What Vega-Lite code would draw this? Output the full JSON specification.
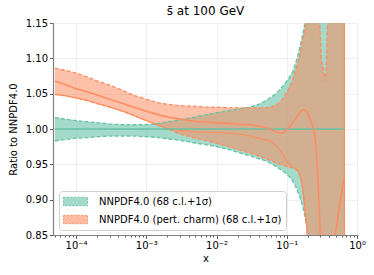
{
  "$schema": "https://vega.github.io/schema/vega-lite/v6.json",
  "width": 305,
  "height": 212,
  "autosize": {"type": "none"},
  "padding": {"left": 53, "top": 23, "right": 16, "bottom": 40},
  "background": "white",
  "title": {"text": "s̄ at 100 GeV", "font": "DejaVu Sans", "fontSize": 12, "fontWeight": "normal", "color": "black", "offset": 0, "frame": "group"},
  "config": {
    "view": {"stroke": null},
    "font": "DejaVu Sans",
    "axis": {
      "labelFont": "DejaVu Sans", "labelFontSize": 10, "labelColor": "black",
      "titleFont": "DejaVu Sans", "titleFontSize": 10, "titleFontWeight": "normal", "titleColor": "black",
      "domainColor": "#808080", "domainWidth": 1.2, "tickColor": "#333333", "tickWidth": 0.8,
      "gridColor": "#ebebeb", "gridWidth": 0.8, "labelOverlap": false
    },
    "axisY": {"labelOverlap": false, "labelFlush": false}
  },
  "data": {"values": [
    {"x": 0.00005, "g_lo": 0.983, "g_hi": 1.016, "g_c": 1.0, "o_lo": 1.049, "o_hi": 1.086, "o_c": 1.068, "o_in": 1.049},
    {"x": 0.00007, "g_lo": 0.985, "g_hi": 1.014, "g_c": 1.0, "o_lo": 1.047, "o_hi": 1.083, "o_c": 1.063, "o_in": 1.047},
    {"x": 0.0001, "g_lo": 0.987, "g_hi": 1.012, "g_c": 1.0, "o_lo": 1.044, "o_hi": 1.079, "o_c": 1.057, "o_in": 1.044},
    {"x": 0.00015, "g_lo": 0.988, "g_hi": 1.010, "g_c": 1.0, "o_lo": 1.040, "o_hi": 1.073, "o_c": 1.052, "o_in": 1.040},
    {"x": 0.0002, "g_lo": 0.989, "g_hi": 1.009, "g_c": 1.0, "o_lo": 1.036, "o_hi": 1.068, "o_c": 1.048, "o_in": 1.036},
    {"x": 0.0003, "g_lo": 0.990, "g_hi": 1.007, "g_c": 1.0, "o_lo": 1.031, "o_hi": 1.062, "o_c": 1.042, "o_in": 1.031},
    {"x": 0.0005, "g_lo": 0.990, "g_hi": 1.006, "g_c": 1.0, "o_lo": 1.024, "o_hi": 1.053, "o_c": 1.035, "o_in": 1.024},
    {"x": 0.0007, "g_lo": 0.990, "g_hi": 1.006, "g_c": 1.0, "o_lo": 1.018, "o_hi": 1.047, "o_c": 1.030, "o_in": 1.018},
    {"x": 0.001, "g_lo": 0.989, "g_hi": 1.006, "g_c": 1.0, "o_lo": 1.012, "o_hi": 1.042, "o_c": 1.025, "o_in": 1.012},
    {"x": 0.0015, "g_lo": 0.988, "g_hi": 1.008, "g_c": 1.0, "o_lo": 1.005, "o_hi": 1.037, "o_c": 1.020, "o_in": 1.005},
    {"x": 0.002, "g_lo": 0.986, "g_hi": 1.010, "g_c": 1.0, "o_lo": 1.000, "o_hi": 1.035, "o_c": 1.017, "o_in": 1.001},
    {"x": 0.003, "g_lo": 0.984, "g_hi": 1.013, "g_c": 1.0, "o_lo": 0.993, "o_hi": 1.033, "o_c": 1.014, "o_in": 0.998},
    {"x": 0.005, "g_lo": 0.980, "g_hi": 1.017, "g_c": 1.0, "o_lo": 0.987, "o_hi": 1.032, "o_c": 1.011, "o_in": 0.996},
    {"x": 0.007, "g_lo": 0.978, "g_hi": 1.020, "g_c": 1.0, "o_lo": 0.984, "o_hi": 1.031, "o_c": 1.010, "o_in": 0.995},
    {"x": 0.01, "g_lo": 0.975, "g_hi": 1.023, "g_c": 1.0, "o_lo": 0.980, "o_hi": 1.031, "o_c": 1.009, "o_in": 0.995},
    {"x": 0.015, "g_lo": 0.971, "g_hi": 1.026, "g_c": 1.0, "o_lo": 0.975, "o_hi": 1.030, "o_c": 1.008, "o_in": 0.994},
    {"x": 0.02, "g_lo": 0.967, "g_hi": 1.028, "g_c": 1.0, "o_lo": 0.971, "o_hi": 1.030, "o_c": 1.007, "o_in": 0.993},
    {"x": 0.03, "g_lo": 0.962, "g_hi": 1.031, "g_c": 1.0, "o_lo": 0.966, "o_hi": 1.030, "o_c": 1.006, "o_in": 0.990},
    {"x": 0.04, "g_lo": 0.958, "g_hi": 1.035, "g_c": 1.0, "o_lo": 0.962, "o_hi": 1.030, "o_c": 1.004, "o_in": 0.987},
    {"x": 0.05, "g_lo": 0.955, "g_hi": 1.040, "g_c": 1.0, "o_lo": 0.958, "o_hi": 1.030, "o_c": 1.002, "o_in": 0.985},
    {"x": 0.06, "g_lo": 0.951, "g_hi": 1.045, "g_c": 1.0, "o_lo": 0.955, "o_hi": 1.031, "o_c": 0.999, "o_in": 0.982},
    {"x": 0.07, "g_lo": 0.947, "g_hi": 1.050, "g_c": 1.0, "o_lo": 0.952, "o_hi": 1.034, "o_c": 0.996, "o_in": 0.977},
    {"x": 0.08, "g_lo": 0.943, "g_hi": 1.056, "g_c": 1.0, "o_lo": 0.950, "o_hi": 1.038, "o_c": 0.994, "o_in": 0.970},
    {"x": 0.09, "g_lo": 0.940, "g_hi": 1.062, "g_c": 1.0, "o_lo": 0.948, "o_hi": 1.044, "o_c": 0.995, "o_in": 0.962},
    {"x": 0.1, "g_lo": 0.936, "g_hi": 1.068, "g_c": 1.0, "o_lo": 0.947, "o_hi": 1.052, "o_c": 0.999, "o_in": 0.955},
    {"x": 0.11, "g_lo": 0.932, "g_hi": 1.074, "g_c": 1.0, "o_lo": 0.946, "o_hi": 1.060, "o_c": 1.003, "o_in": 0.950},
    {"x": 0.12, "g_lo": 0.927, "g_hi": 1.080, "g_c": 1.0, "o_lo": 0.945, "o_hi": 1.068, "o_c": 1.008, "o_in": 0.946},
    {"x": 0.13, "g_lo": 0.921, "g_hi": 1.090, "g_c": 1.0, "o_lo": 0.944, "o_hi": 1.080, "o_c": 1.013, "o_in": 0.944},
    {"x": 0.14, "g_lo": 0.914, "g_hi": 1.100, "g_c": 1.0, "o_lo": 0.942, "o_hi": 1.090, "o_c": 1.018, "o_in": 0.942},
    {"x": 0.15, "g_lo": 0.906, "g_hi": 1.112, "g_c": 1.0, "o_lo": 0.937, "o_hi": 1.102, "o_c": 1.022, "o_in": 0.937},
    {"x": 0.16, "g_lo": 0.898, "g_hi": 1.124, "g_c": 1.0, "o_lo": 0.928, "o_hi": 1.115, "o_c": 1.025, "o_in": 0.928},
    {"x": 0.17, "g_lo": 0.889, "g_hi": 1.136, "g_c": 1.0, "o_lo": 0.912, "o_hi": 1.128, "o_c": 1.027, "o_in": 0.912},
    {"x": 0.18, "g_lo": 0.878, "g_hi": 1.148, "g_c": 1.0, "o_lo": 0.890, "o_hi": 1.140, "o_c": 1.027, "o_in": 0.890},
    {"x": 0.19, "g_lo": 0.865, "g_hi": 1.165, "g_c": 1.0, "o_lo": 0.865, "o_hi": 1.152, "o_c": 1.025, "o_in": 0.865},
    {"x": 0.2, "g_lo": 0.850, "g_hi": 1.180, "g_c": 1.0, "o_lo": 0.840, "o_hi": 1.165, "o_c": 1.021, "o_in": 0.840},
    {"x": 0.22, "g_lo": 0.810, "g_hi": 1.220, "g_c": 1.0, "o_lo": 0.780, "o_hi": 1.190, "o_c": 1.011, "o_in": 0.780},
    {"x": 0.24, "g_lo": 0.750, "g_hi": 1.260, "g_c": 1.0, "o_lo": 0.720, "o_hi": 1.215, "o_c": 1.000, "o_in": 0.720},
    {"x": 0.25, "g_lo": 0.720, "g_hi": 1.280, "g_c": 1.0, "o_lo": 0.700, "o_hi": 1.220, "o_c": 0.990, "o_in": 0.700},
    {"x": 0.26, "g_lo": 0.690, "g_hi": 1.300, "g_c": 1.0, "o_lo": 0.680, "o_hi": 1.220, "o_c": 0.975, "o_in": 0.680},
    {"x": 0.27, "g_lo": 0.660, "g_hi": 1.320, "g_c": 1.0, "o_lo": 0.660, "o_hi": 1.215, "o_c": 0.950, "o_in": 0.660},
    {"x": 0.28, "g_lo": 0.640, "g_hi": 1.330, "g_c": 1.0, "o_lo": 0.640, "o_hi": 1.200, "o_c": 0.920, "o_in": 0.640},
    {"x": 0.29, "g_lo": 0.620, "g_hi": 1.340, "g_c": 1.0, "o_lo": 0.620, "o_hi": 1.160, "o_c": 0.885, "o_in": 0.620},
    {"x": 0.3, "g_lo": 0.600, "g_hi": 1.350, "g_c": 1.0, "o_lo": 0.600, "o_hi": 1.130, "o_c": 0.850, "o_in": 0.600},
    {"x": 0.31, "g_lo": 0.590, "g_hi": 1.360, "g_c": 1.0, "o_lo": 0.590, "o_hi": 1.100, "o_c": 0.820, "o_in": 0.590},
    {"x": 0.32, "g_lo": 0.580, "g_hi": 1.360, "g_c": 1.0, "o_lo": 0.580, "o_hi": 1.090, "o_c": 0.790, "o_in": 0.580},
    {"x": 0.33, "g_lo": 0.570, "g_hi": 1.360, "g_c": 1.0, "o_lo": 0.570, "o_hi": 1.085, "o_c": 0.770, "o_in": 0.570},
    {"x": 0.34, "g_lo": 0.560, "g_hi": 1.360, "g_c": 1.0, "o_lo": 0.560, "o_hi": 1.075, "o_c": 0.750, "o_in": 0.560},
    {"x": 0.35, "g_lo": 0.560, "g_hi": 1.360, "g_c": 1.0, "o_lo": 0.560, "o_hi": 1.068, "o_c": 0.730, "o_in": 0.560},
    {"x": 0.36, "g_lo": 0.550, "g_hi": 1.360, "g_c": 1.0, "o_lo": 0.550, "o_hi": 1.080, "o_c": 0.720, "o_in": 0.550},
    {"x": 0.37, "g_lo": 0.550, "g_hi": 1.360, "g_c": 1.0, "o_lo": 0.550, "o_hi": 1.110, "o_c": 0.710, "o_in": 0.550},
    {"x": 0.38, "g_lo": 0.540, "g_hi": 1.360, "g_c": 1.0, "o_lo": 0.540, "o_hi": 1.150, "o_c": 0.710, "o_in": 0.540},
    {"x": 0.4, "g_lo": 0.540, "g_hi": 1.360, "g_c": 1.0, "o_lo": 0.540, "o_hi": 1.200, "o_c": 0.730, "o_in": 0.540},
    {"x": 0.42, "g_lo": 0.530, "g_hi": 1.360, "g_c": 1.0, "o_lo": 0.530, "o_hi": 1.240, "o_c": 0.760, "o_in": 0.530},
    {"x": 0.46, "g_lo": 0.520, "g_hi": 1.360, "g_c": 1.0, "o_lo": 0.520, "o_hi": 1.280, "o_c": 0.820, "o_in": 0.520},
    {"x": 0.49, "g_lo": 0.520, "g_hi": 1.360, "g_c": 1.0, "o_lo": 0.520, "o_hi": 1.300, "o_c": 0.850, "o_in": 0.520},
    {"x": 0.55, "g_lo": 0.510, "g_hi": 1.360, "g_c": 1.0, "o_lo": 0.510, "o_hi": 1.300, "o_c": 0.885, "o_in": 0.510},
    {"x": 0.6, "g_lo": 0.510, "g_hi": 1.360, "g_c": 1.0, "o_lo": 0.510, "o_hi": 1.300, "o_c": 0.910, "o_in": 0.510},
    {"x": 0.66, "g_lo": 0.500, "g_hi": 1.360, "g_c": 1.0, "o_lo": 0.500, "o_hi": 1.300, "o_c": 0.933, "o_in": 0.500}
  ]},
  "encoding": {
    "x": {
      "field": "x", "type": "quantitative",
      "scale": {"type": "log", "domain": [0.000047, 1.03], "nice": false},
      "axis": {
        "title": "x", "titlePadding": 3, "grid": true,
        "values": [0.00005, 0.00006, 0.00007, 0.00008, 0.00009, 0.0001, 0.0002, 0.0003, 0.0004, 0.0005, 0.0006, 0.0007, 0.0008, 0.0009, 0.001, 0.002, 0.003, 0.004, 0.005, 0.006, 0.007, 0.008, 0.009, 0.01, 0.02, 0.03, 0.04, 0.05, 0.06, 0.07, 0.08, 0.09, 0.1, 0.2, 0.3, 0.4, 0.5, 0.6, 0.7, 0.8, 0.9, 1],
        "labelExpr": "datum.value == 0.0001 ? '10⁻⁴' : datum.value == 0.001 ? '10⁻³' : datum.value == 0.01 ? '10⁻²' : datum.value == 0.1 ? '10⁻¹' : datum.value == 1 ? '10⁰' : ''",
        "tickSize": {"condition": {"test": "indexof([0.0001, 0.001, 0.01, 0.1, 1], datum.value) >= 0", "value": 3.5}, "value": 2},
        "gridOpacity": {"condition": {"test": "indexof([0.0001, 0.001, 0.01, 0.1, 1], datum.value) >= 0", "value": 1}, "value": 0},
        "labelPadding": 2, "labelFlush": false, "labelOverlap": false
      }
    },
    "y": {
      "type": "quantitative",
      "scale": {"domain": [0.85, 1.15], "nice": false, "zero": false},
      "axis": {"title": "Ratio to NNPDF4.0", "values": [0.85, 0.9, 0.95, 1.0, 1.05, 1.1, 1.15], "format": ".2f", "tickSize": 3.5, "labelPadding": 2, "titlePadding": 7, "grid": true, "labelOverlap": false, "labelFlush": false}
    }
  },
  "layer": [
    {
      "mark": {"type": "area", "clip": true, "fillOpacity": 0.6},
      "encoding": {
        "y": {"field": "g_lo", "type": "quantitative"},
        "y2": {"field": "g_hi"},
        "color": {"datum": "NNPDF4.0 (68 c.l.+1σ)", "type": "nominal",
          "scale": {"domain": ["NNPDF4.0 (68 c.l.+1σ)", "NNPDF4.0 (pert. charm) (68 c.l.+1σ)"], "range": ["#66c2a5", "#fc8d62"]},
          "legend": {
            "title": null, "orient": "none", "legendX": 6, "legendY": 168,
            "fillColor": "white", "strokeColor": "#d0d0d0", "cornerRadius": 3, "padding": 4,
            "labelFont": "DejaVu Sans", "labelFontSize": 10, "labelColor": "black", "labelOffset": 23, "labelLimit": 400,
            "symbolType": "M-1,-0.7H3V0.7H-1Z", "symbolSize": 144, "symbolStrokeWidth": 1, "symbolDash": [2, 1.5],
            "rowPadding": 5,
            "encode": {"symbols": {"update": {"fillOpacity": {"value": 0.6}, "strokeOpacity": {"value": 1}, "stroke": {"scale": "color", "field": "value"}}}}
          }}
      }
    },
    {
      "mark": {"type": "area", "clip": true, "fillOpacity": 0.55},
      "encoding": {
        "y": {"field": "o_lo", "type": "quantitative"},
        "y2": {"field": "o_hi"},
        "color": {"datum": "NNPDF4.0 (pert. charm) (68 c.l.+1σ)", "type": "nominal"}
      }
    },
    {
      "mark": {"type": "line", "clip": true, "color": "#66c2a5", "strokeWidth": 1.3, "strokeDash": [4, 2]},
      "encoding": {"y": {"field": "g_lo", "type": "quantitative"}}
    },
    {
      "mark": {"type": "line", "clip": true, "color": "#66c2a5", "strokeWidth": 1.3, "strokeDash": [4, 2]},
      "encoding": {"y": {"field": "g_hi", "type": "quantitative"}}
    },
    {
      "mark": {"type": "line", "clip": true, "color": "#fc8d62", "strokeWidth": 1.3, "strokeDash": [4, 2]},
      "encoding": {"y": {"field": "o_lo", "type": "quantitative"}}
    },
    {
      "mark": {"type": "line", "clip": true, "color": "#fc8d62", "strokeWidth": 1.3, "strokeDash": [4, 2]},
      "encoding": {"y": {"field": "o_hi", "type": "quantitative"}}
    },
    {
      "mark": {"type": "line", "clip": true, "color": "#fc8d62", "strokeWidth": 1.1},
      "encoding": {"y": {"field": "o_in", "type": "quantitative"}}
    },
    {
      "mark": {"type": "line", "clip": true, "color": "#66c2a5", "strokeWidth": 1.6},
      "encoding": {"y": {"field": "g_c", "type": "quantitative"}}
    },
    {
      "mark": {"type": "line", "clip": true, "color": "#fc8d62", "strokeWidth": 1.6},
      "encoding": {"y": {"field": "o_c", "type": "quantitative"}}
    },
    {
      "transform": [{"filter": "datum.x == 0.66"}],
      "mark": {"type": "rule", "clip": true, "color": "#fc8d62", "strokeWidth": 1.2},
      "encoding": {"y": {"field": "o_lo", "type": "quantitative"}, "y2": {"field": "o_hi"}}
    }
  ]
}
